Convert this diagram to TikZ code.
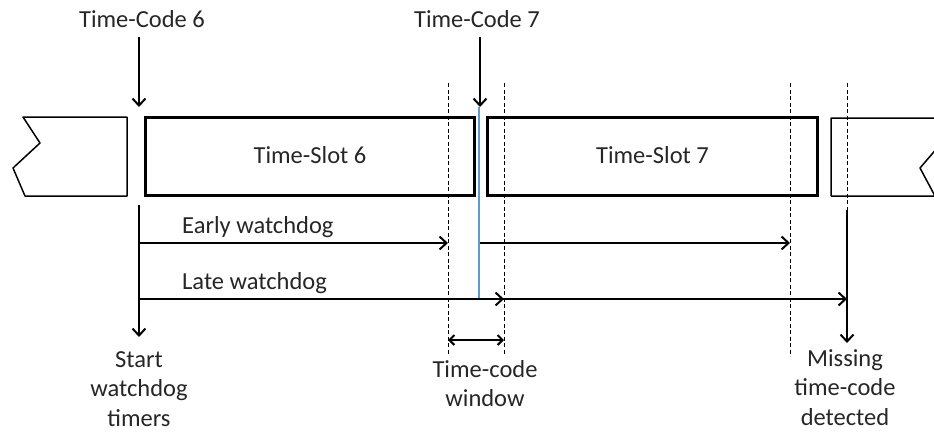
\documentclass[tikz,border=0pt]{standalone}
\usepackage{fontspec}
\setmainfont{Carlito}
\usetikzlibrary{arrows.meta}
\definecolor{inkgray}{HTML}{262626}
\definecolor{markblue}{HTML}{5B9BD5}
\begin{document}
\begin{tikzpicture}[x=1pt,y=-1pt,
  lbl/.style={font=\fontsize{24.5}{30}\selectfont, text=inkgray, inner sep=0pt, align=center},
  slotbox/.style={draw, line width=3pt, inner sep=0pt},
  partbox/.style={draw, line width=1.5pt, line join=round},
  wd/.style={line width=2pt, -{Straight Barb[length=7pt,width=13pt]}},
  window/.style={line width=2pt, {Straight Barb[length=5pt,width=10pt]}-{Straight Barb[length=5pt,width=10pt]}},
  guide/.style={line width=1pt, dash pattern=on 4pt off 2.5pt},
  tcline/.style={markblue, line width=1.5pt}]
\useasboundingbox (0,0) rectangle (934,432);
\clip (0,0) rectangle (934,432);

% time-code labels
\node[lbl, anchor=base] (tc6) at (142,27) {Time-Code 6};
\node[lbl, anchor=base] (tc7) at (477,27) {Time-Code 7};

% time slots
\node[slotbox, minimum width=329pt, minimum height=78pt] (ts6) at (309.5,156) {};
\node[slotbox, minimum width=330pt, minimum height=78pt] (ts7) at (652,156) {};
\node[lbl, anchor=base] (ts6l) at (310,163) {Time-Slot 6};
\node[lbl, anchor=base] (ts7l) at (652.5,163) {Time-Slot 7};

% broken-off neighbouring slots
\draw[partbox] (127,117) -- (23,117) -- (40,143) -- (13,168) -- (25,196) -- (127,196) -- cycle;
\draw[partbox] (831,118) -- (963,118) -- (920,168) -- (935,196) -- (831,196) -- cycle;

% reference points
\coordinate (a6s) at (139,37);
\coordinate (a6e) at (139,107);
\coordinate (a7s) at (480,37);
\coordinate (a7e) at (480,107);
\coordinate (bl1) at (479,107);
\coordinate (bl2) at (479,299);
\coordinate (sts) at (139,205);
\coordinate (ste) at (139,337);
\coordinate (e1s) at (139,243);
\coordinate (e1e) at (448,243);
\coordinate (e2s) at (480,243);
\coordinate (e2e) at (790,243);
\coordinate (l1s) at (139,299);
\coordinate (l1e) at (504,299);
\coordinate (l2s) at (480,299);
\coordinate (l2e) at (847,299);
\coordinate (ms) at (847,210);
\coordinate (me) at (847,343);
\coordinate (wa) at (448,340);
\coordinate (wb) at (504,340);
\coordinate (d1t) at (448,83);
\coordinate (d1b) at (448,355);
\coordinate (d2t) at (504,83);
\coordinate (d2b) at (504,355);
\coordinate (d3t) at (790,83);
\coordinate (d3b) at (790,356);
\coordinate (d4t) at (847,83);
\coordinate (d4b) at (847,210);

% dashed guide lines
\draw[guide] (d1t) -- (d1b);
\draw[guide] (d2t) -- (d2b);
\draw[guide] (d3t) -- (d3b);
\draw[guide] (d4t) -- (d4b);

% time-code 7 instant
\draw[tcline] (bl1) -- (bl2);

% arrows
\draw[wd] (a6s) -- (a6e);
\draw[wd] (a7s) -- (a7e);
\draw[wd] (sts) -- (ste);
\draw[wd] (e1s) -- (e1e);
\draw[wd] (e2s) -- (e2e);
\draw[wd] (l1s) -- (l1e);
\draw[wd] (l2s) -- (l2e);
\draw[wd] (ms) -- (me);
\draw[window] (wa) -- (wb);

% labels (multi-line nodes sit on the baseline of their last line)
\node[lbl, anchor=base west] (ew) at (182,233) {Early watchdog};
\node[lbl, anchor=base west] (lw) at (182,289) {Late watchdog};
\node[lbl, anchor=base, font=\fontsize{24.5}{29.5}\selectfont] (stl) at (139,426) {Start\\watchdog\\timers};
\node[lbl, anchor=base, font=\fontsize{24.5}{29}\selectfont] (tcw) at (485,406) {Time-code\\window};
\node[lbl, anchor=base, font=\fontsize{24.5}{29.5}\selectfont] (mis) at (845,425) {Missing\\time-code\\detected};
\end{tikzpicture}
\end{document}
